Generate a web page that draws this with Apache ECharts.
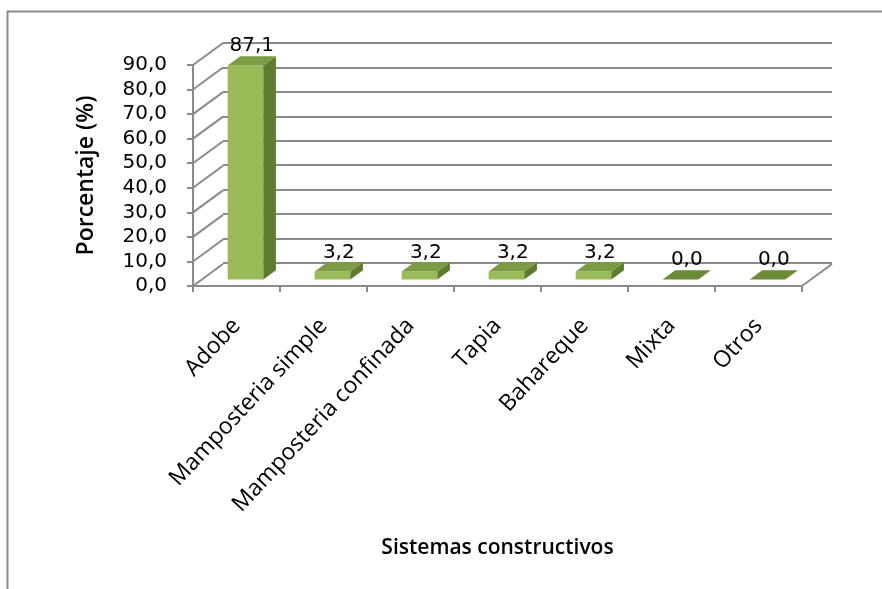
<!DOCTYPE html>
<html>
<head>
<meta charset="utf-8">
<script src="https://cdn.jsdelivr.net/npm/echarts@6/dist/echarts.min.js"></script>
<style>
  html, body { margin: 0; padding: 0; background: #ffffff; }
  #chart { width: 882px; height: 589px; }
</style>
</head>
<body>
<div id="chart"></div>
<script>
// Sistemas constructivos de las viviendas (porcentaje)
const categories = ['Adobe', 'Mamposteria simple', 'Mamposteria confinada', 'Tapia', 'Bahareque', 'Mixta', 'Otros'];
const percentages = [87.1, 3.2, 3.2, 3.2, 3.2, 0.0, 0.0];
const yTicks = [0, 10, 20, 30, 40, 50, 60, 70, 80, 90];
const yAxisTitle = 'Porcentaje (%)';
const xAxisTitle = 'Sistemas constructivos';

// 3D look: offset of the back wall relative to the front plane
const DEPTH_X = 30;
const DEPTH_Y = -22;
const BAR_FRONT = 0.3;   // bar front face position within the depth
const BAR_DEPTH = 0.42;  // bar thickness as a fraction of the depth
const BAR_WIDTH = 0.41;  // bar width as a fraction of the category band

const GRID_COLOR = '#8a8a8a';
const FACE_FRONT = '#9bbb59';
const FACE_TOP = '#7c9b42';
const FACE_SIDE = '#5f7b2f';

const fmt = v => v.toFixed(1).replace('.', ',');
const FONT_NUM = 'DejaVu Sans';
const FONT_TXT = 'Open Sans';
const NUM_SIZE = 20;

const chart = echarts.init(document.getElementById('chart'));

const yMax = yTicks[yTicks.length - 1];
const yStep = yTicks[1] - yTicks[0];

chart.setOption({
  animation: false,
  backgroundColor: '#ffffff',
  graphic: [{
    type: 'rect',
    left: 5, top: 9,
    shape: { width: 1000, height: 1000 },
    style: { fill: 'none', stroke: '#8a8a8a', lineWidth: 2 },
    silent: true
  }],
  grid: [
    // front plane: axes, labels, bars
    { left: 193, right: 80, top: 65, bottom: 303 },
    // back wall: horizontal gridlines
    { left: 223, right: 50, top: 43, bottom: 326 }
  ],
  xAxis: [{
    gridIndex: 0,
    type: 'category',
    data: categories,
    boundaryGap: true,
    axisLine: { show: true, lineStyle: { color: GRID_COLOR, width: 2 } },
    axisTick: { show: true, length: 6, alignWithLabel: false, lineStyle: { color: GRID_COLOR, width: 2 } },
    axisLabel: {
      rotate: 47, interval: 0, margin: 36,
      color: '#000', fontFamily: FONT_TXT, fontSize: 23
    },
    name: xAxisTitle,
    nameLocation: 'middle',
    nameGap: 252,
    nameTextStyle: { color: '#000', fontFamily: FONT_TXT, fontSize: 21, fontWeight: 600, verticalAlign: 'top' }
  }, {
    gridIndex: 1,
    type: 'category',
    data: categories,
    show: false
  }],
  yAxis: [{
    gridIndex: 0,
    type: 'value',
    min: 0, max: yMax, interval: yStep,
    axisLine: { show: true, lineStyle: { color: GRID_COLOR, width: 2 } },
    axisTick: { show: true, length: 6, lineStyle: { color: GRID_COLOR, width: 2 } },
    splitLine: { show: false },
    axisLabel: {
      margin: 26, color: '#000', fontFamily: FONT_NUM, fontSize: NUM_SIZE,
      formatter: v => fmt(v)
    },
    name: yAxisTitle,
    nameLocation: 'middle',
    nameRotate: 90,
    nameGap: 95,
    nameTextStyle: { color: '#000', fontFamily: FONT_TXT, fontSize: 23, fontWeight: 600 }
  }, {
    gridIndex: 1,
    type: 'value',
    min: 0, max: yMax, interval: yStep,
    axisLine: { show: false },
    axisTick: { show: false },
    axisLabel: { show: false },
    splitLine: { show: true, lineStyle: { color: GRID_COLOR, width: 2 } }
  }],
  series: [
    {
      // left wall diagonals at each tick, plus the floor's right edge
      type: 'custom',
      xAxisIndex: 0, yAxisIndex: 0,
      silent: true,
      z: 1,
      data: yTicks.map(v => [0, v]),
      renderItem: function (params, api) {
        const cs = params.coordSys;
        const y = api.coord([0, api.value(1)])[1];
        const children = [{
          type: 'line',
          shape: { x1: cs.x, y1: y, x2: cs.x + DEPTH_X, y2: y + DEPTH_Y },
          style: { stroke: GRID_COLOR, lineWidth: 2 }
        }];
        if (api.value(1) === 0) {
          children.push({
            type: 'line',
            shape: { x1: cs.x + cs.width, y1: y, x2: cs.x + cs.width + DEPTH_X, y2: y + DEPTH_Y },
            style: { stroke: GRID_COLOR, lineWidth: 2 }
          });
        }
        return { type: 'group', children: children };
      }
    },
    {
      // 3D columns with value labels
      type: 'custom',
      xAxisIndex: 0, yAxisIndex: 0,
      z: 3,
      data: percentages.map((v, i) => [i, v]),
      renderItem: function (params, api) {
        const i = api.value(0);
        const v = api.value(1);
        const base = api.coord([i, 0]);
        const top = api.coord([i, v]);
        const band = api.size([1, 0])[0];
        const bw = band * BAR_WIDTH;
        const fx = DEPTH_X * BAR_FRONT, fy = DEPTH_Y * BAR_FRONT;
        const dx = DEPTH_X * BAR_DEPTH, dy = DEPTH_Y * BAR_DEPTH;
        const x0 = base[0] + fx - bw / 2;
        const x1 = x0 + bw;
        const yb = base[1] + fy;
        const yt = top[1] + fy;
        const children = [];
        if (yb - yt > 0.01) {
          children.push({
            type: 'rect',
            shape: { x: x0, y: yt, width: bw, height: yb - yt },
            style: { fill: FACE_FRONT }
          });
          children.push({
            type: 'polygon',
            shape: { points: [[x1, yt], [x1 + dx, yt + dy], [x1 + dx, yb + dy], [x1, yb]] },
            style: { fill: FACE_SIDE }
          });
        }
        children.push({
          type: 'polygon',
          shape: { points: [[x0, yt], [x0 + dx, yt + dy], [x1 + dx, yt + dy], [x1, yt]] },
          style: { fill: v > 0 ? FACE_TOP : '#6d8b36' }
        });
        children.push({
          type: 'text',
          style: {
            x: x0 + bw / 2 + dx / 2,
            y: yt + dy,
            text: fmt(v),
            fill: '#000',
            font: NUM_SIZE + 'px "' + FONT_NUM + '"',
            align: 'center',
            verticalAlign: 'bottom'
          }
        });
        return { type: 'group', children: children };
      }
    }
  ]
});
</script>
</body>
</html>
